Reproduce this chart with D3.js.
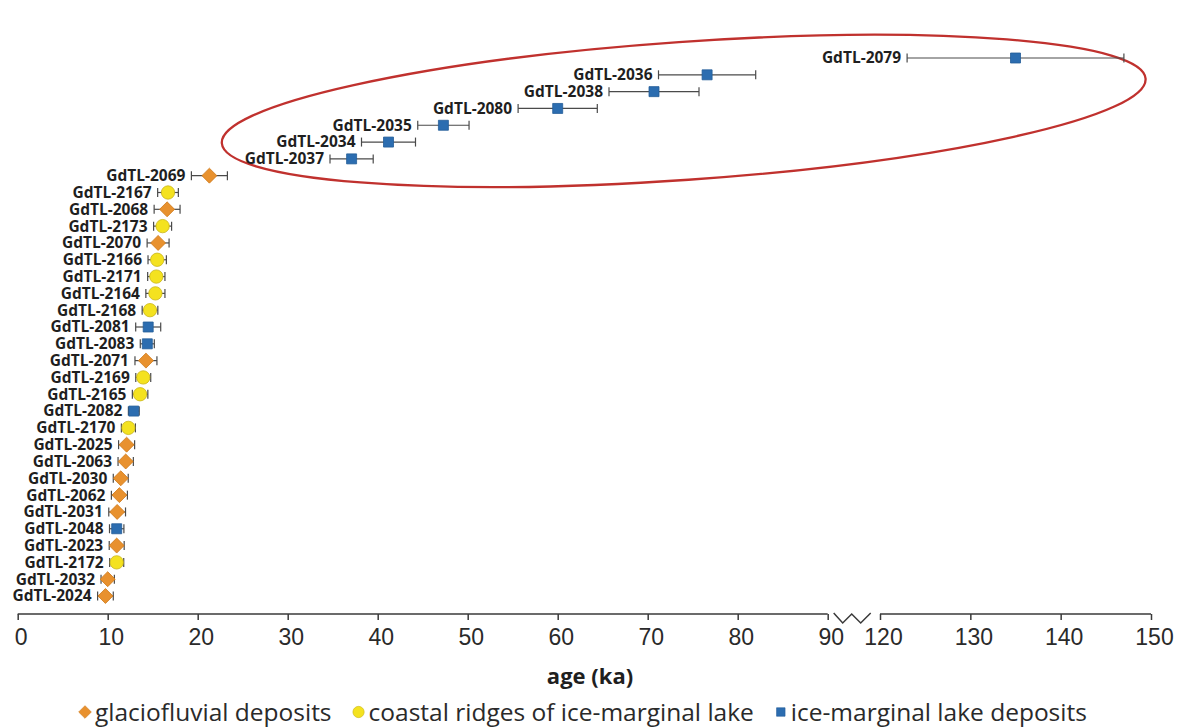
<!DOCTYPE html>
<html>
<head>
<meta charset="utf-8">
<script src="https://cdn.jsdelivr.net/npm/d3@7"></script>
<style>
body{margin:0;background:#fff;}
svg{display:block;font-family:"Open Sans",sans-serif;}
.lbl{font-weight:700;font-size:15.5px;fill:#1f1f1f;}
.tick text{font-size:23px;fill:#2a2a2a;}
.legend text{font-size:24.5px;fill:#2a2a2a;}
</style>
</head>
<body>
<div id="chart"></div>
<script>
// rows listed bottom to top
const sampleIds = ["GdTL-2024","GdTL-2032","GdTL-2172","GdTL-2023","GdTL-2048","GdTL-2031","GdTL-2062","GdTL-2030",
  "GdTL-2063","GdTL-2025","GdTL-2170","GdTL-2082","GdTL-2165","GdTL-2169","GdTL-2071","GdTL-2083","GdTL-2081",
  "GdTL-2168","GdTL-2164","GdTL-2171","GdTL-2166","GdTL-2070","GdTL-2173","GdTL-2068","GdTL-2167","GdTL-2069",
  "GdTL-2037","GdTL-2034","GdTL-2035","GdTL-2080","GdTL-2038","GdTL-2036","GdTL-2079"];
const ages = [9.75,10.0,11.0,11.0,11.0,11.05,11.3,11.45,12.0,12.1,12.3,12.9,13.6,13.95,14.25,14.4,14.5,
  14.7,15.3,15.4,15.5,15.6,16.1,16.6,16.7,21.3,37.1,41.2,47.3,60.0,70.7,76.6,135.0];
const errors = [0.87,0.74,0.78,0.83,0.8,0.93,0.89,0.83,0.85,0.89,0.78,0.6,0.86,0.83,1.22,0.78,1.39,
  0.87,1.06,0.96,1.02,1.22,1.0,1.44,1.15,2.0,2.4,3.0,2.85,4.4,5.0,5.4,12.0];
const deposits = ["glacio","glacio","coastal","glacio","lake","glacio","glacio","glacio","glacio","glacio","coastal",
  "lake","coastal","coastal","glacio","lake","lake","coastal","coastal","coastal","coastal","glacio","coastal",
  "glacio","coastal","glacio","lake","lake","lake","lake","lake","lake","lake"];
const tickValues = [0,10,20,30,40,50,60,70,80,90,120,130,140,150];
const depositKeys = ["glacio","coastal","lake"];
const legendLabels = ["glaciofluvial deposits","coastal ridges of ice-marginal lake","ice-marginal lake deposits"];

const width = 1179, height = 728;
const axisY = 614;

const svg = d3.select("#chart").append("svg")
  .attr("width", width).attr("height", height);

// broken axis: 0-90 then 120-150
const x = d3.scaleLinear().domain([0, 90, 120, 150]).range([17.7, 827.7, 880, 1151]);
const y = d3.scalePoint().domain(sampleIds).range([596, 58]);

const fillOf = {glacio: "#e8912e", coastal: "#f4e21f", lake: "#2c6db0"};
const strokeOf = {glacio: "#d07c1e", coastal: "#c9b51a", lake: "#235d98"};
const symOf = {
  glacio: d3.symbol().type(d3.symbolSquare).size(112),
  coastal: d3.symbol().type(d3.symbolCircle).size(140),
  lake: d3.symbol().type(d3.symbolSquare).size(100)
};

const data = sampleIds.map((id, i) => ({id, age: ages[i], err: errors[i], type: deposits[i]}));

// highlight ellipse
const ecx = x(74), ecy = y("GdTL-2080") + 2.5;
svg.append("ellipse")
  .attr("cx", ecx).attr("cy", ecy)
  .attr("rx", 463).attr("ry", 69)
  .attr("transform", `rotate(-4 ${ecx} ${ecy})`)
  .attr("fill", "none").attr("stroke", "#c0312e").attr("stroke-width", 2.3);

// error bars
const eb = svg.append("g").attr("stroke", "#4a4a4a").attr("stroke-width", 1.2);
eb.selectAll("line.bar").data(data).join("line").attr("class", "bar")
  .attr("x1", d => x(d.age - d.err)).attr("x2", d => x(d.age + d.err))
  .attr("y1", d => y(d.id)).attr("y2", d => y(d.id));
eb.selectAll("line.capl").data(data).join("line").attr("class", "capl")
  .attr("x1", d => x(d.age - d.err)).attr("x2", d => x(d.age - d.err))
  .attr("y1", d => y(d.id) - 4.5).attr("y2", d => y(d.id) + 4.5);
eb.selectAll("line.capr").data(data).join("line").attr("class", "capr")
  .attr("x1", d => x(d.age + d.err)).attr("x2", d => x(d.age + d.err))
  .attr("y1", d => y(d.id) - 4.5).attr("y2", d => y(d.id) + 4.5);

// markers
svg.append("g").selectAll("path").data(data).join("path")
  .attr("d", d => symOf[d.type]())
  .attr("transform", d => `translate(${x(d.age)},${y(d.id)})` + (d.type === "glacio" ? " rotate(45)" : ""))
  .attr("fill", d => fillOf[d.type])
  .attr("stroke", d => strokeOf[d.type]).attr("stroke-width", 0.8);

// sample labels
svg.append("g").selectAll("text").data(data).join("text")
  .attr("class", "lbl")
  .attr("x", d => x(d.age - d.err) - 6)
  .attr("y", d => y(d.id))
  .attr("dy", "0.35em")
  .attr("text-anchor", "end")
  .text(d => d.id);

// x axis
const axis = svg.append("g").attr("transform", `translate(0,${axisY})`)
  .call(d3.axisBottom(x).tickValues(tickValues).tickSize(6).tickSizeOuter(0));
axis.select(".domain").remove();
axis.selectAll(".tick line").attr("stroke", "#3a3a3a").attr("stroke-width", 1.5);
axis.selectAll(".tick text").attr("y", 15).attr("dx", 3);
const axLine = axis.append("g").attr("fill", "none").attr("stroke", "#3a3a3a").attr("stroke-width", 1.5);
axLine.append("line").attr("x1", x(0)).attr("x2", x(90));
axLine.append("line").attr("x1", x(120)).attr("x2", x(150));
axLine.append("polyline")
  .attr("points", [[x(90) + 6, -1], [x(90) + 15, 9], [x(90) + 24, 0], [x(90) + 33, 9], [x(90) + 43, -1]].join(" "));

svg.append("text")
  .attr("x", 590).attr("y", 684)
  .attr("text-anchor", "middle")
  .style("font-size", "22px").style("font-weight", 700).style("fill", "#1f1f1f")
  .text("age (ka)");

// legend
const legend = svg.append("g").attr("class", "legend").attr("transform", "translate(0,712)");
let lx = 78;
depositKeys.forEach((k, i) => {
  const g = legend.append("g");
  const size = k === "glacio" ? 80 : k === "coastal" ? 100 : 72;
  g.append("path")
    .attr("d", d3.symbol().type(k === "coastal" ? d3.symbolCircle : d3.symbolSquare).size(size)())
    .attr("transform", `translate(${lx + 7},0)` + (k === "glacio" ? " rotate(45)" : ""))
    .attr("fill", fillOf[k]).attr("stroke", strokeOf[k]).attr("stroke-width", 0.6);
  const t = g.append("text").attr("x", lx + 17).attr("y", 0).attr("dy", "0.35em").text(legendLabels[i]);
  lx += 17 + t.node().getComputedTextLength() + 20;
});
</script>
</body>
</html>
